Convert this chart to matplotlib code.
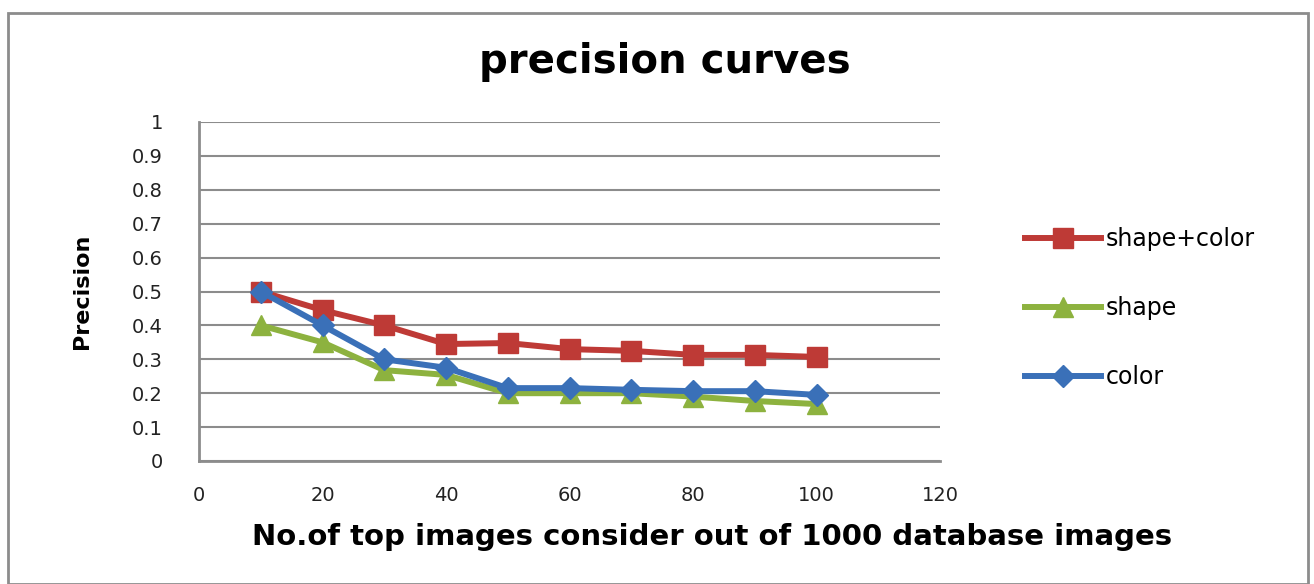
import matplotlib.pyplot as plt
from matplotlib.patches import Rectangle

# precision at top-N retrieved images
top_n = [10, 20, 30, 40, 50, 60, 70, 80, 90, 100]
shape_color = [0.50, 0.445, 0.40, 0.345, 0.348, 0.33, 0.325, 0.313, 0.313, 0.307]
shape = [0.40, 0.35, 0.268, 0.254, 0.20, 0.20, 0.20, 0.19, 0.177, 0.168]
color = [0.50, 0.40, 0.30, 0.275, 0.215, 0.215, 0.21, 0.206, 0.206, 0.195]

x_ticks = [0, 20, 40, 60, 80, 100, 120]
y_ticks = [0, 0.1, 0.2, 0.3, 0.4, 0.5, 0.6, 0.7, 0.8, 0.9, 1]
y_tick_labels = ['0', '0.1', '0.2', '0.3', '0.4', '0.5', '0.6', '0.7', '0.8', '0.9', '1']

W, H = 1314, 584
fig = plt.figure(figsize=(W / 100, H / 100), dpi=100)
fig.patches.append(Rectangle((8 / W, 0), 1300 / W, 1 - 13 / H,
                             transform=fig.transFigure, fill=False,
                             edgecolor='#8c8c8c', linewidth=2))

ax = fig.add_axes([199 / W, 1 - 461 / H, 741 / W, 339 / H])
ax.plot(top_n, shape_color, color='#be3a36', lw=4.3, marker='s', ms=15,
        label='shape+color')
ax.plot(top_n, shape, color='#8db23f', lw=4.3, marker='^', ms=15,
        label='shape')
ax.plot(top_n, color, color='#3a70b8', lw=4.3, marker='D', ms=11,
        label='color')

ax.set_xlim(0, 120)
ax.set_ylim(0, 1)
ax.set_xticks(x_ticks)
ax.set_yticks(y_ticks)
ax.set_yticklabels(y_tick_labels)
ax.tick_params(axis='y', length=0, labelsize=14, pad=26, labelcolor='#222222')
ax.tick_params(axis='x', length=0, labelsize=14, pad=18, labelcolor='#222222')
ax.yaxis.grid(True, color='#8c8c8c', lw=1.5)
ax.set_axisbelow(True)
for side in ['top', 'right']:
    ax.spines[side].set_visible(False)
for side in ['left', 'bottom']:
    ax.spines[side].set_color('#8c8c8c')
    ax.spines[side].set_linewidth(2)

fig.text(665 / W, 1 - 62 / H, 'precision curves', fontsize=29,
         fontweight='bold', ha='center', va='center')
fig.text(712 / W, 1 - 537 / H,
         'No.of top images consider out of 1000 database images',
         fontsize=21, fontweight='bold', ha='center', va='center')
fig.text(82 / W, 1 - 291 / H, 'Precision', fontsize=16, fontweight='bold',
         rotation=90, ha='center', va='center')

fig.legend(loc='center left', bbox_to_anchor=(1025 / W, 1 - 308 / H),
           frameon=False, labelspacing=1.9, handlelength=3.2,
           handletextpad=0.2, borderpad=0, borderaxespad=0,
           prop={'size': 17})

fig.savefig('out.png', dpi=100)
